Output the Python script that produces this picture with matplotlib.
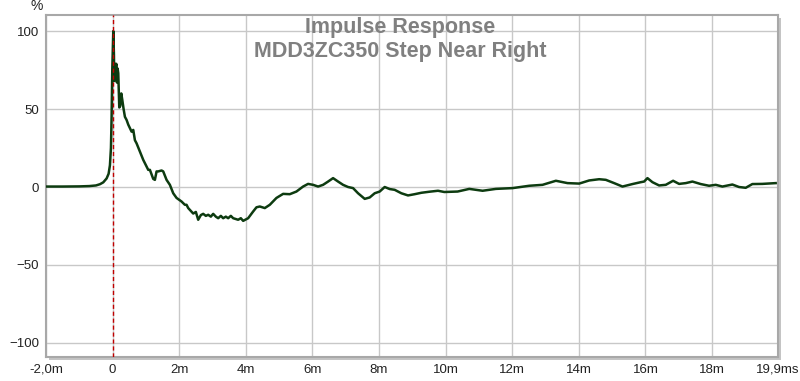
import matplotlib.pyplot as plt
from matplotlib.patches import Rectangle

# 数据：时间 (ms) 与幅度 (%)
t_ms = [-2.0, -1.5, -1.0, -0.7, -0.5, -0.38, -0.28, -0.18, -0.12, -0.08, -0.05, -0.03, -0.01,
        0.02, 0.04, 0.05, 0.07, 0.09, 0.11, 0.13, 0.15, 0.17, 0.2, 0.23, 0.26, 0.29, 0.33, 0.37,
        0.42, 0.47, 0.52, 0.57, 0.62, 0.67, 0.72, 0.82, 0.92, 0.97, 1.07, 1.12, 1.22, 1.27, 1.32,
        1.37, 1.47, 1.52, 1.62, 1.72, 1.82, 1.92, 2.02, 2.07, 2.17, 2.22, 2.27, 2.42, 2.5, 2.57,
        2.65, 2.72, 2.8, 2.87, 2.95, 3.02, 3.1, 3.17, 3.25, 3.32, 3.4, 3.47, 3.55, 3.62, 3.7,
        3.77, 3.85, 3.92, 4.07, 4.22, 4.32, 4.42, 4.57, 4.72, 4.92, 5.12, 5.32, 5.52, 5.72, 5.87,
        6.02, 6.17, 6.32, 6.47, 6.62, 6.77, 6.92, 7.07, 7.22, 7.37, 7.57, 7.72, 7.87, 8.02, 8.17,
        8.32, 8.47, 8.67, 8.87, 9.07, 9.27, 9.52, 9.77, 9.96, 10.36, 10.71, 11.11, 11.51, 12.01,
        12.51, 12.91, 13.31, 13.66, 14.01, 14.31, 14.61, 14.81, 15.06, 15.31, 15.61, 15.86,
        15.96, 16.06, 16.21, 16.41, 16.61, 16.83, 17.01, 17.21, 17.41, 17.66, 17.91, 18.11,
        18.31, 18.61, 18.81, 19.01, 19.21, 19.51, 19.91]
amplitude = [0.3, 0.3, 0.4, 0.6, 1.0, 1.8, 3.0, 5.5, 8.5, 14, 25, 45, 75,
             100, 85, 68, 79, 74, 79, 67, 76, 73, 51, 52, 60, 56, 50, 45,
             43, 40, 37.7, 35.5, 36.6, 30, 28, 22.7, 17.4, 15.3, 11, 11, 5.2, 4.6, 10,
             10, 10.6, 10, 4.6, 1.4, -4, -7, -8.5, -9.3, -11.4, -11.4, -13.5, -17, -16, -21,
             -18, -17.2, -18.5, -17.8, -19, -17.2, -19, -20, -18.5, -20, -19, -20, -18.5, -20, -20.5,
             -21, -20, -21.7, -20, -15.7, -13, -12.5, -13.5, -11.4, -7, -4.4, -4.6, -2.9, 0.3, 2,
             1.4, 0.3, 1.4, 3.5, 5.7, 3.5, 1.4, 0, -0.7, -4, -7.6, -6.7, -4, -2.9, 0,
             -1.3, -1.8, -4, -5.4, -4.6, -3.7, -3, -2.4, -3.2, -2.9, -1.2, -2.4, -1.2, -0.7,
             0.8, 1.4, 4, 2.5, 2.2, 4.2, 5, 4.6, 2.5, 0.3, 1.9, 3.1,
             3.5, 5.7, 3.1, 1, 1.4, 4, 2, 2.5, 3.5, 1.9, 0.8, 1.4,
             0.3, 1.6, 0, -0.5, 1.9, 2, 2.5]

x_ticks = [-2, 0, 2, 4, 6, 8, 10, 12, 14, 16, 18, 19.98]
x_labels = ['-2,0m', '0', '2m', '4m', '6m', '8m', '10m', '12m', '14m', '16m', '18m', '19,9ms']
y_ticks = [-100, -50, 0, 50, 100]

plt.rcParams['font.family'] = ['Liberation Sans Narrow', 'Liberation Sans', 'DejaVu Sans']

fig = plt.figure(figsize=(8, 3.81), dpi=100)
ax = fig.add_axes([46 / 800, 24 / 381, 732 / 800, 342 / 381])

# 阴影
pos = ax.get_position()
shadow = Rectangle((pos.x0 + 3 / 800, pos.y0 - 3 / 381), pos.width, pos.height,
                   transform=fig.transFigure, facecolor='#c4c4c4', edgecolor='none', zorder=0)
fig.patches.append(shadow)
ax.set_zorder(1)

ax.plot(t_ms, amplitude, color='#0d3b10', linewidth=1.8, zorder=3)
ax.axvline(0, color='#c00000', linewidth=1, linestyle=(0, (3, 2)), zorder=4)

ax.set_xlim(-2.0, 19.98)
ax.set_ylim(-109, 110.3)
ax.set_xticks(x_ticks)
ax.set_xticklabels(x_labels)
ax.set_yticks(y_ticks)
ax.tick_params(length=0, labelsize=9.5, pad=5, colors='#222222')
ax.grid(True, color='#c8c8c8', linewidth=1)
ax.set_axisbelow(True)
for s in ax.spines.values():
    s.set_color('#a8a8a8')
    s.set_linewidth(1.5)

fig.text(37 / 800, 1 - 6 / 381, '%', ha='center', va='center', fontsize=10, color='#222222')

# 标题
fig.text(0.5, 1 - 33 / 381, 'Impulse Response', ha='center', va='baseline',
         fontsize=15.5, fontweight='bold', color='#808080', family=['Liberation Sans', 'DejaVu Sans'])
fig.text(0.5, 1 - 57.5 / 381, 'MDD3ZC350 Step Near Right', ha='center', va='baseline',
         fontsize=15.5, fontweight='bold', color='#808080', family=['Liberation Sans', 'DejaVu Sans'])

plt.savefig('out.png', dpi=100)
